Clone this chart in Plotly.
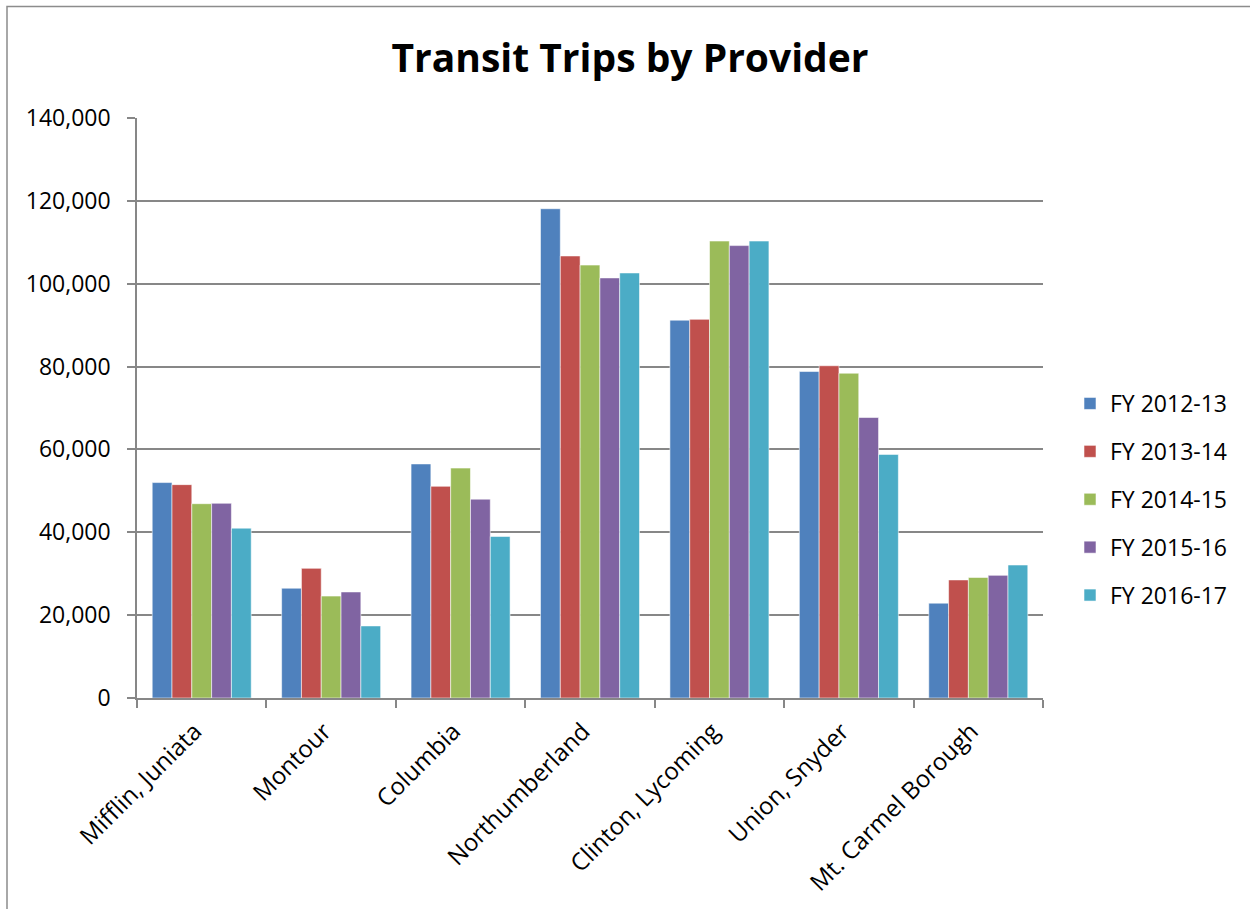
import plotly.graph_objects as go

# Annual ridership by transit provider
providers = ["Mifflin, Juniata", "Montour", "Columbia", "Northumberland",
             "Clinton, Lycoming", "Union, Snyder", "Mt. Carmel Borough"]

fy_2012_13 = [52000, 26500, 56500, 118100, 91200, 78800, 22900]
fy_2013_14 = [51500, 31300, 51100, 106700, 91400, 80200, 28500]
fy_2014_15 = [46900, 24600, 55500, 104500, 110300, 78400, 29100]
fy_2015_16 = [47000, 25600, 48000, 101400, 109200, 67700, 29600]
fy_2016_17 = [41000, 17400, 39000, 102600, 110300, 58800, 32100]

series_names = ["FY 2012-13", "FY 2013-14", "FY 2014-15", "FY 2015-16", "FY 2016-17"]
series_values = [fy_2012_13, fy_2013_14, fy_2014_15, fy_2015_16, fy_2016_17]
series_colors = ["#4F81BD", "#C0504D", "#9BBB59", "#8064A2", "#4BACC6"]

y_ticks = [0, 20000, 40000, 60000, 80000, 100000, 120000, 140000]

FONT = "Open Sans"
GRID = "#878787"

# plot area in pixels
W, H = 1250, 909
L, R, T, B = 137, 1043, 118, 698

fig = go.Figure()
for name, vals, col in zip(series_names, series_values, series_colors):
    fig.add_trace(go.Bar(
        name=name, x=providers, y=vals, legendgroup=name,
        marker=dict(color=col, line=dict(color="rgba(255,255,255,0.55)", width=1)),
    ))

def px_x(p):
    return (p - L) / (R - L)

def px_y(p):
    return (B - p) / (B - T)

# outer chart frame
fig.add_shape(type="rect", xref="paper", yref="paper",
              x0=px_x(7), x1=px_x(1262), y0=px_y(920), y1=px_y(6.5),
              line=dict(color="#8c8c8c", width=1.5), fillcolor="rgba(0,0,0,0)", layer="above")

fig.update_layout(
    width=W, height=H,
    margin=dict(l=L, r=W - R, t=T, b=H - B, autoexpand=False),
    paper_bgcolor="white", plot_bgcolor="white",
    barmode="group", bargap=0.235, bargroupgap=0,
    title=dict(text="<b>Transit Trips by Provider</b>", x=630 / W, xanchor="center",
               y=1 - 58 / H, yanchor="middle",
               font=dict(family=FONT, size=39, color="black")),
    font=dict(family=FONT, size=23, color="black"),
    legend=dict(x=px_x(1070), y=px_y(382), xanchor="left", yanchor="top",
                font=dict(family=FONT, size=23, color="black"),
                tracegroupgap=15, bgcolor="rgba(0,0,0,0)"),
    showlegend=True,
)

fig.update_xaxes(
    type="category", tickangle=-45, tickson="boundaries",
    ticks="outside", ticklen=8, tickcolor=GRID, tickwidth=1.5,
    showline=True, linecolor=GRID, linewidth=1.5,
    showgrid=False, automargin=False,
    ticklabelshift=-7, ticklabelstandoff=8,
    tickfont=dict(family=FONT, size=24, color="black"),
)
fig.update_yaxes(
    range=[0, 140000], tickvals=y_ticks, tickformat=",d",
    ticks="outside", ticklen=8, tickcolor=GRID, tickwidth=1.5,
    showline=True, linecolor=GRID, linewidth=1.5,
    showgrid=True, gridcolor=GRID, gridwidth=1.5, zeroline=False,
    automargin=False, ticklabelstandoff=12,
    tickfont=dict(family=FONT, size=23, color="black"),
)

fig.write_html("out.html")
